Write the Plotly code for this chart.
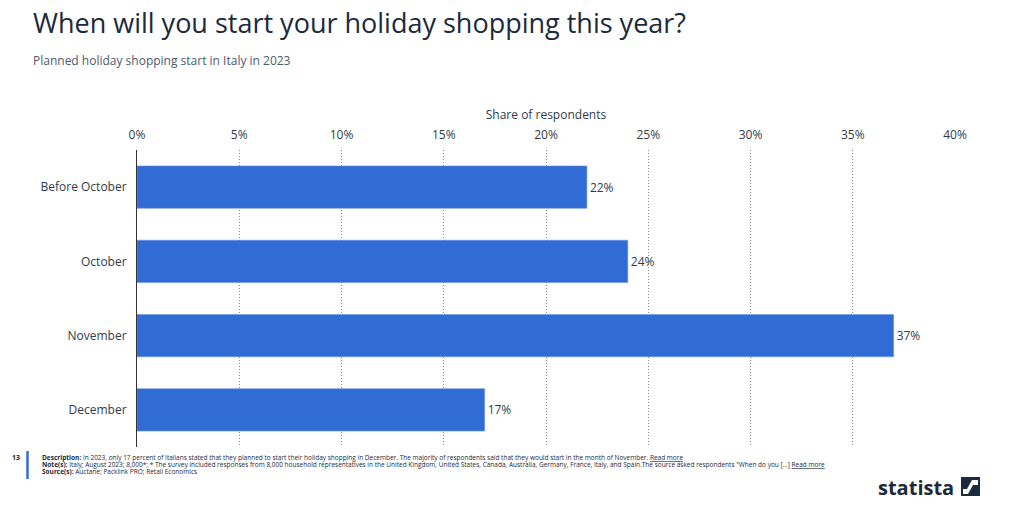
import plotly.graph_objects as go

categories = ["Before October", "October", "November", "December"]
values = [22, 24, 37, 17]
tick_vals = [0, 5, 10, 15, 20, 25, 30, 35, 40]
tick_text = ["0%", "5%", "10%", "15%", "20%", "25%", "30%", "35%", "40%"]

FONT = "Open Sans"
NAVY = "#1b2a3c"
TXT = "#2f3b4c"

fig = go.Figure()
fig.add_trace(go.Bar(
    y=categories, x=values, orientation="h",
    marker=dict(color="#316bd4", line=dict(color="#6f95e0", width=0.6)),
    width=0.57,
    text=[f"{v}%" for v in values], textposition="outside",
    textfont=dict(family=FONT, size=12, color=TXT),
    cliponaxis=False, hoverinfo="skip",
))

fig.update_layout(
    width=1024, height=517,
    margin=dict(l=137, r=69, t=150, b=70),
    paper_bgcolor="white", plot_bgcolor="white",
    showlegend=False,
    font=dict(family=FONT, color=TXT),
    xaxis=dict(
        range=[0, 40], side="top", tickvals=tick_vals, ticktext=tick_text,
        tickfont=dict(family=FONT, size=12, color=TXT),
        showgrid=True, gridcolor="#8a8a8a", griddash="1px,2px", gridwidth=1,
        zeroline=False, showline=False, ticks="", ticklabelstandoff=8,
        title=dict(text="Share of respondents", font=dict(family=FONT, size=12, color=TXT), standoff=3),
        fixedrange=True,
    ),
    yaxis=dict(
        autorange="reversed", showline=True, linecolor="#333333", linewidth=1,
        tickfont=dict(family=FONT, size=12, color=TXT), ticks="",
        ticklabelstandoff=7, showgrid=False, fixedrange=True,
    ),
    bargap=0.43,
)

def px_x(p):
    return (p - 137) / 818
def px_y(p):
    return 1 - (p - 150) / 297

fig.add_annotation(text="When will you start your holiday shopping this year?",
                   xref="paper", yref="paper", x=px_x(31), y=px_y(22),
                   xanchor="left", yanchor="middle", showarrow=False,
                   font=dict(family=FONT, size=27, color=NAVY))
fig.add_annotation(text="Planned holiday shopping start in Italy in 2023",
                   xref="paper", yref="paper", x=px_x(31), y=px_y(60),
                   xanchor="left", yanchor="middle", showarrow=False,
                   font=dict(family=FONT, size=12, color="#4b5a6e"))

# footer
fig.add_annotation(text="<b>13</b>", xref="paper", yref="paper", x=px_x(22), y=px_y(457),
                   xanchor="right", yanchor="middle", showarrow=False,
                   font=dict(family=FONT, size=7, color=NAVY))
fig.add_shape(type="line", xref="paper", yref="paper", x0=px_x(27.5), x1=px_x(27.5),
              y0=px_y(451), y1=px_y(479), line=dict(color="#316bd4", width=2.5))
foot = [
    "<b>Description:</b> In 2023, only 17 percent of Italians stated that they planned to start their holiday shopping in December. The majority of respondents said that they would start in the month of November. <u>Read more</u>",
    "<b>Note(s):</b> Italy; August 2023; 8,000*; * The survey included responses from 8,000 household representatives in the United Kingdom, United States, Canada, Australia, Germany, France, Italy, and Spain.The source asked respondents \"When do you [...] <u>Read more</u>",
    "<b>Source(s):</b> Auctane; Packlink PRO; Retail Economics",
]
for i, t in enumerate(foot):
    fig.add_annotation(text=t, xref="paper", yref="paper", x=px_x(40), y=px_y(457 + 7 * i),
                       xanchor="left", yanchor="middle", showarrow=False,
                       font=dict(family=FONT, size=6.5, color=NAVY))

# logo
fig.add_annotation(text="<b>statista</b>", xref="paper", yref="paper", x=px_x(956), y=px_y(487),
                   xanchor="right", yanchor="middle", showarrow=False,
                   font=dict(family=FONT, size=20, color=NAVY))
x0, y0 = 961, 477
fig.add_shape(type="rect", xref="paper", yref="paper", x0=px_x(x0), x1=px_x(x0 + 19),
              y0=px_y(y0), y1=px_y(y0 + 19), fillcolor=NAVY, line=dict(width=0))
pts = [(x0 + 2, y0 + 17), (x0 + 7, y0 + 17), (x0 + 12, y0 + 8), (x0 + 17, y0 + 8),
       (x0 + 17, y0 + 3), (x0 + 11, y0 + 3), (x0 + 6, y0 + 12), (x0 + 2, y0 + 12)]
path = "M " + " L ".join(f"{px_x(a)},{px_y(b)}" for a, b in pts) + " Z"
fig.add_shape(type="path", xref="paper", yref="paper", path=path, fillcolor="white", line=dict(width=0))

fig.write_html("out.html")
